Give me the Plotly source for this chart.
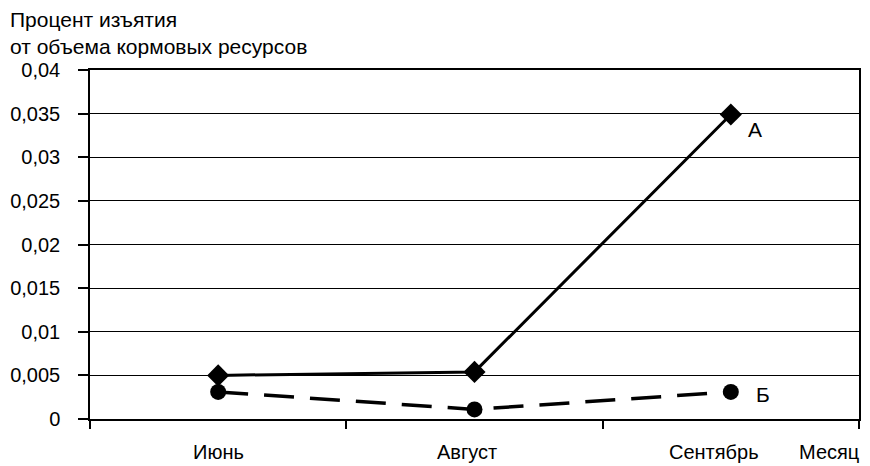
import plotly.graph_objects as go

months = ["Июнь", "Август", "Сентябрь"]
series_a = [0.005, 0.0054, 0.0349]
series_b = [0.0031, 0.0011, 0.0031]
y_ticks = [0, 0.005, 0.01, 0.015, 0.02, 0.025, 0.03, 0.035, 0.04]
y_tick_text = ["0", "0,005", "0,01", "0,015", "0,02", "0,025", "0,03", "0,035", "0,04"]

xpos = list(range(len(months)))
font = "Liberation Sans, Arial, Helvetica, sans-serif"
fs = 21

fig = go.Figure()
fig.add_trace(go.Scatter(x=xpos, y=series_a, mode="lines+markers",
                         line=dict(color="black", width=3),
                         marker=dict(symbol="diamond", size=17, color="black"),
                         name="А", showlegend=False))
fig.add_trace(go.Scatter(x=xpos, y=series_b, mode="lines+markers",
                         line=dict(color="black", width=3.5, dash="30px,16px"),
                         marker=dict(symbol="circle", size=16, color="black"),
                         name="Б", showlegend=False))

plot_h = 349.0
plot_w = 769.0
label_shift = [0, -8, -17]
ann = []
for i, m in enumerate(months):
    ann.append(dict(x=i, y=-33 / plot_h, xref="x", yref="paper", text=m, showarrow=False,
                    yanchor="middle", xshift=label_shift[i],
                    font=dict(size=20, color="black", family=font)))
ann.append(dict(x=1.0, y=-33 / plot_h, xref="paper", yref="paper", text="Месяц",
                showarrow=False, xanchor="right", yanchor="middle", xshift=2,
                font=dict(size=20, color="black", family=font)))
ann.append(dict(x=2, y=series_a[2], xref="x", yref="y", text="А", showarrow=False,
                xanchor="left", yanchor="middle", xshift=15, yshift=-15,
                font=dict(size=fs, color="black", family=font)))
ann.append(dict(x=2, y=series_b[2], xref="x", yref="y", text="Б", showarrow=False,
                xanchor="left", yanchor="middle", xshift=23, yshift=-3,
                font=dict(size=fs, color="black", family=font)))
ann.append(dict(x=-82 / plot_w, y=1 + 64 / plot_h, xref="paper", yref="paper",
                text="Процент изъятия<br>от объема кормовых ресурсов",
                showarrow=False, xanchor="left", yanchor="top", align="left",
                font=dict(size=fs, color="black", family=font)))

fig.update_layout(
    width=862, height=458,
    margin=dict(l=82, r=11, t=62, b=47),
    paper_bgcolor="white", plot_bgcolor="white",
    font=dict(family=font, color="black", size=fs),
    annotations=ann,
    xaxis=dict(range=[-0.5, 2.5], tickvals=[-0.5, 0.5, 1.5, 2.5], showticklabels=False,
               ticks="outside", ticklen=8, tickcolor="black", tickwidth=1.5,
               showgrid=False, zeroline=False, showline=True, linecolor="black",
               linewidth=1.5, mirror=True, automargin=False),
    yaxis=dict(range=[0, 0.04], tickvals=y_ticks, ticktext=y_tick_text,
               ticks="outside", ticklen=10, tickcolor="black", tickwidth=1.5,
               ticklabelstandoff=14, automargin=False,
               showgrid=True, gridcolor="black", gridwidth=1, zeroline=False,
               showline=True, linecolor="black", linewidth=1.5, mirror=True,
               tickfont=dict(size=20, color="black", family=font)),
)

fig.write_html("out.html")
